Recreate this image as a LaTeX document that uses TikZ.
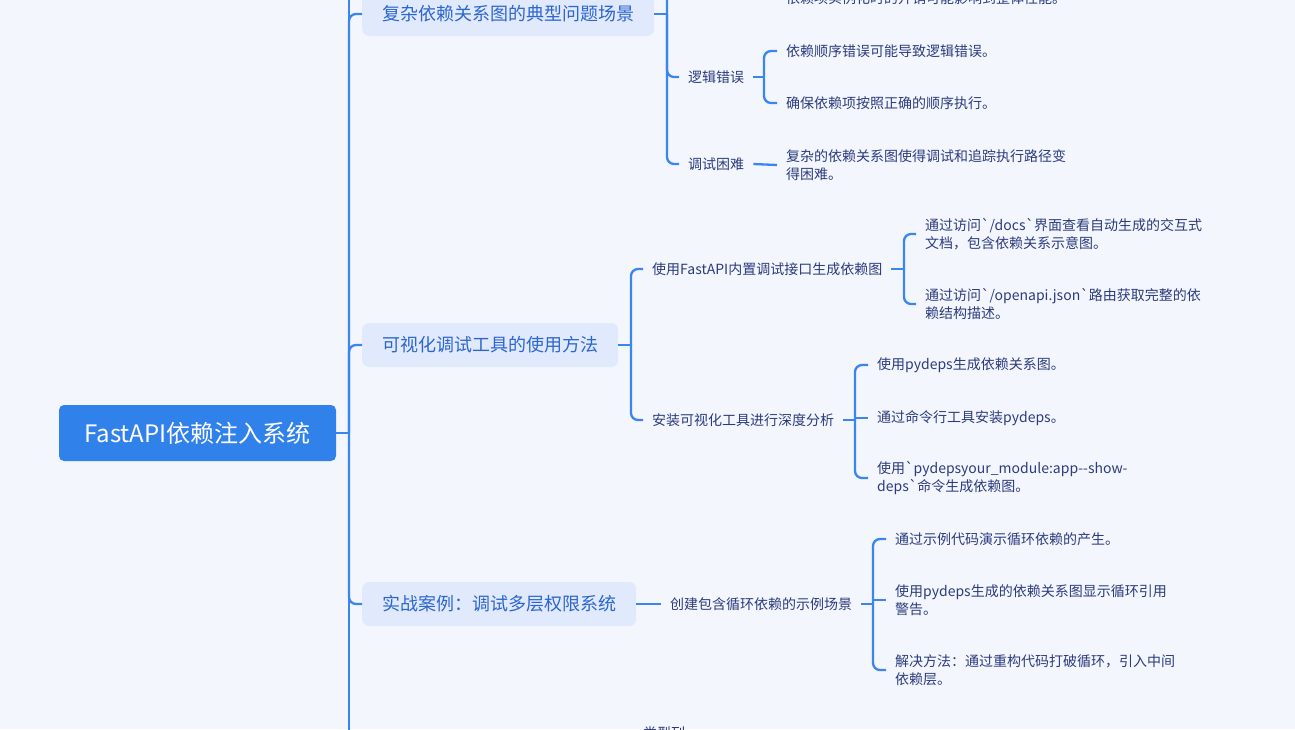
\documentclass[tikz,border=0pt]{standalone}
\usepackage{fontspec}
\setmainfont[Ligatures=TeXOff]{Noto Sans CJK SC}
\definecolor{bgc}{HTML}{F4F6FE}
\definecolor{linec}{HTML}{3A86F0}
\definecolor{rootc}{HTML}{3181EB}
\definecolor{lonefill}{HTML}{E1E9FC}
\definecolor{lonetext}{HTML}{2C66CF}
\definecolor{txt}{HTML}{2B3C7C}
\begin{document}
\begin{tikzpicture}[x=1pt,y=-1pt,
  conn/.style={draw=linec,line width=2.3pt},
  rc/.style={conn,rounded corners=7pt},
  rootbox/.style={fill=rootc,text=white,rounded corners=5pt,minimum width=277pt,minimum height=56pt,inner sep=0pt,font={\fontsize{24}{28}\selectfont}},
  lone/.style={fill=lonefill,text=lonetext,rounded corners=7pt,minimum height=44pt,inner xsep=20pt,inner ysep=0pt,anchor=west,font={\fontsize{18}{22}\selectfont}},
  leaf/.style={text=txt,inner xsep=9pt,inner ysep=0pt,anchor=west,align=left,font={\fontsize{14}{18}\selectfont}}
]
\useasboundingbox (0,0) rectangle (1295,729);
\clip (0,0) rectangle (1295,729);
\fill[bgc] (0,0) rectangle (1295,729);

% root and main spine
\node[rootbox] (root) at (197.5,433) {FastAPI依赖注入系统};
\coordinate (j0) at (349,433);
\coordinate (sptop) at (349,-30);
\coordinate (spbot) at (349,760);
\draw[conn] (sptop) -- (spbot);
\draw[conn] (root.east) -- (j0);

% level 1
\node[lone] (a) at (362,14) {复杂依赖关系图的典型问题场景};
\node[lone] (b) at (362,345) {可视化调试工具的使用方法};
\node[lone] (c) at (362,604) {实战案例：调试多层权限系统};
\draw[rc] (j0) |- (a.west);
\draw[rc] (j0) |- (b.west);
\draw[rc] (j0) |- (c.west);

% branch a
\coordinate (ja) at (667,14);
\coordinate (jatop) at (667,-40);
\node[leaf] (a1) at (679,77) {逻辑错误};
\node[leaf] (a2) at (679,164) {调试困难};
\draw[conn] (a.east) -- (ja);
\draw[rc] (jatop) -- (ja) |- (a2.west);
\draw[rc] (ja) |- (a1.west);
\node[leaf] (a0x) at (777,-2) {依赖项实例化时的开销可能影响到整体性能。};
\node[leaf] (a11) at (777,51) {依赖顺序错误可能导致逻辑错误。};
\node[leaf] (a12) at (777,103) {确保依赖项按照正确的顺序执行。};
\coordinate (ja1) at (764,77);
\draw[conn] (a1.east) -- (ja1);
\draw[rc] (a11.west) -| (ja1) |- (a12.west);
\node[leaf] (a21) at (777,165) {复杂的依赖关系图使得调试和追踪执行路径变\\得困难。};
\draw[conn] (a2.east) -- (a21.west);

% branch b
\coordinate (jb) at (631,345);
\node[leaf] (b1) at (643,269) {使用FastAPI内置调试接口生成依赖图};
\node[leaf] (b2) at (643,420) {安装可视化工具进行深度分析};
\draw[conn] (b.east) -- (jb);
\draw[rc] (b1.west) -| (jb) |- (b2.west);
\coordinate (jb1) at (904,269);
\node[leaf] (b11) at (916,234) {通过访问`/docs`界面查看自动生成的交互式\\文档，包含依赖关系示意图。};
\node[leaf] (b12) at (916,304) {通过访问`/openapi.json`路由获取完整的依\\赖结构描述。};
\draw[conn] (b1.east) -- (jb1);
\draw[rc] (b11.west) -| (jb1) |- (b12.west);
\coordinate (jb2) at (855,420);
\node[leaf] (b21) at (868,365) {使用pydeps生成依赖关系图。};
\node[leaf] (b22) at (868,418) {通过命令行工具安装pydeps。};
\node[leaf] (b23) at (868,478) {使用`pydepsyour\_module:app--show-\\deps`命令生成依赖图。};
\draw[conn] (b2.east) -- (jb2);
\draw[rc] (b21.west) -| (jb2) |- (b23.west);
\draw[conn] (jb2 |- b22.west) -- (b22.west);

% branch c
\node[leaf] (c1) at (661,604) {创建包含循环依赖的示例场景};
\draw[conn] (c.east) -- (c1.west);
\coordinate (jc1) at (873,604);
\node[leaf] (c11) at (886,539) {通过示例代码演示循环依赖的产生。};
\node[leaf] (c12) at (886,600) {使用pydeps生成的依赖关系图显示循环引用\\警告。};
\node[leaf] (c13) at (886,670) {解决方法：通过重构代码打破循环，引入中间\\依赖层。};
\draw[conn] (c1.east) -- (jc1);
\draw[rc] (c11.west) -| (jc1) |- (c13.west);
\draw[conn] (jc1 |- c12.west) -- (c12.west);

% partially visible item at bottom edge
\node[leaf] (dx) at (634,733) {类型列};
\end{tikzpicture}
\end{document}
